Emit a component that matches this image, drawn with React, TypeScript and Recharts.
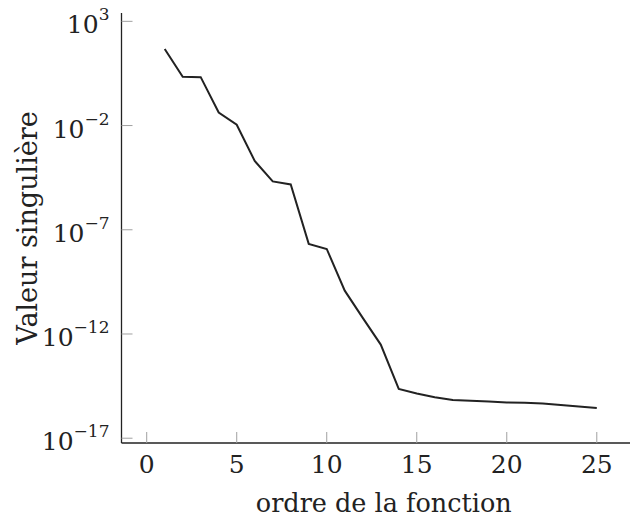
import React from "react";
import { LineChart, Line, XAxis, YAxis } from "recharts";

const orders = [1, 2, 3, 4, 5, 6, 7, 8, 9, 10, 11, 12, 13, 14, 15, 16, 17, 18, 19, 20, 21, 22, 23, 24, 25];
const singularValues = [
  4.7e1, 2.2, 2.1, 4.2e-2, 1.1e-2, 2.0e-4, 2.1e-5, 1.5e-5, 2.1e-8, 1.2e-8,
  1.2e-10, 5.9e-12, 3.1e-13, 2.3e-15, 1.4e-15, 9.3e-16, 6.8e-16, 6.2e-16, 5.8e-16, 5.2e-16,
  5.0e-16, 4.6e-16, 3.9e-16, 3.3e-16, 2.8e-16,
];
const xTicks = [0, 5, 10, 15, 20, 25];
const yTicks = [1e3, 1e-2, 1e-7, 1e-12, 1e-17];
const xLabel = "ordre de la fonction";
const yLabel = "Valeur singulière";

const data = orders.map((o, i) => ({ x: o, y: singularValues[i] }));

const FONT = "'DejaVu Serif', serif";
const TICK_COLOR = "#a0a0a0";
const TEXT_COLOR = "#222";
const TL = 11;

const expOf = (v: number) => Math.round(Math.log10(v));
const fmtExp = (e: number) => (e < 0 ? "\u2212" + Math.abs(e) : String(e));

const BottomTick = (props: any) => {
  const { x, y, payload } = props;
  return (
    <g>
      <line x1={x} x2={x} y1={y} y2={y - TL} stroke={TICK_COLOR} strokeWidth={1} />
      <text x={x} y={y + 30} textAnchor="middle" fontFamily={FONT} fontSize={25} fill={TEXT_COLOR}>
        {payload.value}
      </text>
    </g>
  );
};

const TopTick = (props: any) => {
  const { x, y } = props;
  return <line x1={x} x2={x} y1={y} y2={y + TL} stroke={TICK_COLOR} strokeWidth={1} />;
};

const LeftTick = (props: any) => {
  const { x, y, payload } = props;
  const e = expOf(payload.value);
  return (
    <g>
      <line x1={x} x2={x + TL} y1={y} y2={y} stroke={TICK_COLOR} strokeWidth={1} />
      <text x={x - 12} y={y + 12} textAnchor="end" fontFamily={FONT} fill={TEXT_COLOR}>
        <tspan fontSize={25}>10</tspan>
        <tspan fontSize={17} dy={-13}>{fmtExp(e)}</tspan>
      </text>
    </g>
  );
};

const RightTick = (props: any) => {
  const { x, y } = props;
  return <line x1={x} x2={x - TL} y1={y} y2={y} stroke={TICK_COLOR} strokeWidth={1} />;
};

export default function App() {
  return (
    <div style={{ position: "absolute", left: 0, top: 0, width: 630, height: 521, overflow: "hidden", background: "#fff" }}>
      <LineChart width={645} height={521} data={data} margin={{ top: 13, right: 5, bottom: 0, left: 0 }}>
        <XAxis
          xAxisId="b"
          dataKey="x"
          type="number"
          domain={[-1.4, 27.4]}
          ticks={xTicks}
          allowDataOverflow
          orientation="bottom"
          height={78}
          axisLine={{ stroke: "#222", strokeWidth: 1.3 }}
          tickLine={false}
          tickSize={0}
          tickMargin={0}
          tick={<BottomTick />}
          interval={0}
          label={{
            content: (p: any) => {
              const vb = p.viewBox;
              return (
                <text x={vb.x + vb.width / 2 + 3} y={vb.y + 69} textAnchor="middle" fontFamily={FONT} fontSize={25.5} fill={TEXT_COLOR}>
                  {xLabel}
                </text>
              );
            },
          }}
        />
        <XAxis
          xAxisId="t"
          dataKey="x"
          type="number"
          domain={[-1.4, 27.4]}
          ticks={xTicks}
          allowDataOverflow
          orientation="top"
          height={0}
          axisLine={{ stroke: "#555", strokeWidth: 1.3 }}
          tickLine={false}
          tickSize={0}
          tickMargin={0}
          tick={<TopTick />}
          interval={0}
        />
        <YAxis
          yAxisId="l"
          dataKey="y"
          scale="log"
          type="number"
          domain={[Math.pow(10, -17.23), Math.pow(10, 3.4)]}
          ticks={yTicks}
          allowDataOverflow
          orientation="left"
          width={121.5}
          axisLine={{ stroke: "#222", strokeWidth: 1.3 }}
          tickLine={false}
          tickSize={0}
          tickMargin={0}
          tick={<LeftTick />}
          interval={0}
          label={{
            content: (p: any) => {
              const vb = p.viewBox;
              const cy = vb.y + vb.height / 2;
              return (
                <text x={37} y={cy} transform={`rotate(-90 37 ${cy})`} textAnchor="middle" fontFamily={FONT} fontSize={27} fill={TEXT_COLOR}>
                  {yLabel}
                </text>
              );
            },
          }}
        />
        <YAxis
          yAxisId="r"
          dataKey="y"
          scale="log"
          type="number"
          domain={[Math.pow(10, -17.23), Math.pow(10, 3.4)]}
          ticks={yTicks}
          allowDataOverflow
          orientation="right"
          width={0}
          axisLine={{ stroke: "#555", strokeWidth: 1.3 }}
          tickLine={false}
          tickSize={0}
          tickMargin={0}
          tick={<RightTick />}
          interval={0}
        />
        <Line
          xAxisId="b"
          yAxisId="l"
          type="linear"
          dataKey="y"
          stroke="#222"
          strokeWidth={2}
          dot={false}
          isAnimationActive={false}
        />
      </LineChart>
    </div>
  );
}
